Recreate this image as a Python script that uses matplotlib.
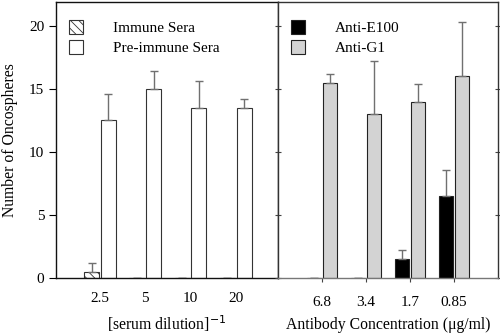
import numpy as np
import matplotlib.pyplot as plt

plt.rcParams['font.family'] = ['Liberation Serif', 'DejaVu Serif']
plt.rcParams['hatch.linewidth'] = 0.6

# left panel: serum dilution
dilutions = ["2.5", "5", "10", "20"]
immune = [0.5, 0, 0, 0]
immune_err = [0.7, 0, 0, 0]
preimmune = [12.5, 15.0, 13.5, 13.5]
preimmune_err = [2.1, 1.4, 2.1, 0.7]

# right panel: antibody concentration
concs = ["6.8", "3.4", "1.7", "0.85"]
anti_e100 = [0, 0, 1.5, 6.5]
anti_e100_err = [0, 0, 0.7, 2.1]
anti_g1 = [15.5, 13.0, 14.0, 16.0]
anti_g1_err = [0.7, 4.2, 1.4, 4.3]

fig = plt.figure(figsize=(5, 3.36), dpi=100)
ax1 = fig.add_axes([56 / 500, 1 - 278 / 336, 222 / 500, 276 / 336])
ax2 = fig.add_axes([278 / 500, 1 - 278 / 336, 220 / 500, 276 / 336])

w = 0.33
off = 0.185
errkw = dict(ecolor="#707070", elinewidth=1.0, capsize=3, capthick=1.0)
x = np.arange(4)

ax1.bar(x - off, immune, w, color="white", edgecolor="#333333", hatch="\\\\\\\\", linewidth=0.8,
        yerr=[np.zeros(4), immune_err], error_kw=errkw, label="Immune Sera")
ax1.bar(x + off, preimmune, w, color="white", edgecolor="#333333", linewidth=0.8,
        yerr=[np.zeros(4), preimmune_err], error_kw=errkw, label="Pre-immune Sera")

ax2.bar(x - off, anti_e100, w, color="black", edgecolor="#222222", linewidth=0.8,
        yerr=[np.zeros(4), anti_e100_err], error_kw=errkw, label="Anti-E100")
ax2.bar(x + off, anti_g1, w, color="#d3d3d3", edgecolor="#222222", linewidth=0.8,
        yerr=[np.zeros(4), anti_g1_err], error_kw=errkw, label="Anti-G1")

for ax in (ax1, ax2):
    ax.set_ylim(0, 21.9)
    ax.set_xticks(x)
    ax.tick_params(axis="x", length=3, pad=10, labelsize=11)
    ax.tick_params(axis="y", labelsize=11)
    for s in ax.spines.values():
        s.set_linewidth(1.0)

ax1.set_xlim(-0.97, 3.93)
ax1.set_xticklabels(dilutions)
ax1.set_yticks([0, 5, 10, 15, 20])
ax1.tick_params(axis="y", length=5, direction="out")
ax1.tick_params(axis="x", length=0)
ax1.set_ylabel("Number of Oncospheres", fontsize=11.3, labelpad=8)
ax1.set_xlabel("[serum dilution]$^{-1}$", fontsize=11.3, labelpad=6)
for s in ax1.spines.values():
    s.set_color("#111111")

ax2.set_xlim(-1.0, 4.0)
ax2.set_xticklabels(concs)
ax2.set_yticks([0, 5, 10, 15, 20])
ax2.tick_params(axis="y", which="both", direction="inout", length=5, left=True, right=True,
                labelleft=False, color="#444444")
ax2.tick_params(axis="x", color="#444444")
ax2.set_xlabel("Antibody Concentration (\u03bcg/ml)", fontsize=11.3, labelpad=6)
for s in ax2.spines.values():
    s.set_color("#333333")
ax2.spines["bottom"].set_color("#777777")

leg_kw = dict(loc="upper left", frameon=False, fontsize=11, handlelength=0.9, handleheight=1.0,
              handletextpad=2.0, labelspacing=0.35, borderaxespad=0.45, bbox_to_anchor=(0.0, 0.982))
ax1.legend(**leg_kw)
ax2.legend(**leg_kw)

fig.savefig("out.png", dpi=100)
